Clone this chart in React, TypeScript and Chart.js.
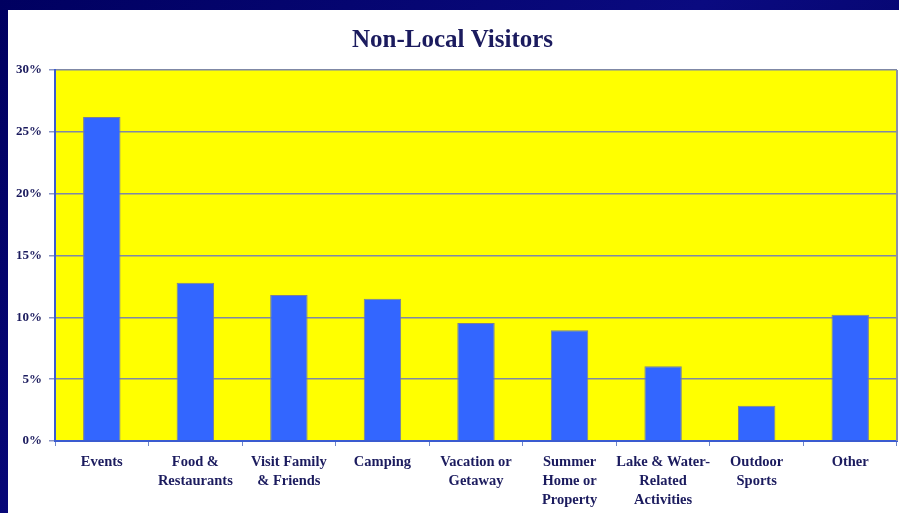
import React, { useEffect, useRef } from "react";
import { Chart, registerables } from "chart.js";

Chart.register(...registerables);

const categories: string[][] = [
  ["Events"],
  ["Food &", "Restaurants"],
  ["Visit Family", "& Friends"],
  ["Camping"],
  ["Vacation or", "Getaway"],
  ["Summer", "Home or", "Property"],
  ["Lake & Water-", "Related", "Activities"],
  ["Outdoor", "Sports"],
  ["Other"],
];
const values: number[] = [26.2, 12.8, 11.8, 11.5, 9.55, 8.95, 6.05, 2.85, 10.2];
const yTicks: number[] = [0, 5, 10, 15, 20, 25, 30];

const TEXT = "#1b1b5e";
const FONT = "'Liberation Serif', 'Times New Roman', serif";

const plotBg = {
  id: "plotBg",
  beforeDraw(chart: any) {
    const { ctx, chartArea } = chart;
    if (!chartArea) return;
    ctx.save();
    ctx.fillStyle = "#ffff00";
    ctx.fillRect(chartArea.left, chartArea.top, chartArea.right - chartArea.left, chartArea.bottom - chartArea.top);
    ctx.restore();
  },
  afterDraw(chart: any) {
    const { ctx, chartArea } = chart;
    ctx.save();
    ctx.strokeStyle = "#8a8fa8";
    ctx.lineWidth = 2;
    ctx.beginPath();
    ctx.moveTo(chartArea.right, chartArea.top);
    ctx.lineTo(chartArea.right, chartArea.bottom);
    ctx.stroke();
    ctx.restore();
  },
};

export default function App() {
  const ref = useRef<HTMLCanvasElement>(null);
  useEffect(() => {
    document.body.style.margin = "0";
    const chart = new Chart(ref.current!, {
      type: "bar",
      data: {
        labels: categories,
        datasets: [
          {
            data: values,
            backgroundColor: "#3366ff",
            borderColor: "#7a7f96",
            borderWidth: 1,
            barPercentage: 0.4,
            categoryPercentage: 1,
          },
        ],
      },
      options: {
        animation: false,
        responsive: false,
        layout: { padding: { left: 0, right: 2, top: 0, bottom: 0 } },
        plugins: {
          legend: { display: false },
          tooltip: { enabled: false },
          title: {
            display: true,
            text: "Non-Local Visitors",
            color: TEXT,
            font: { family: FONT, size: 25, weight: "bold", lineHeight: 1.2 },
            padding: { top: 16, bottom: 14 },
          },
        },
        scales: {
          x: {
            grid: {
              offset: true,
              drawOnChartArea: false,
              drawTicks: true,
              tickLength: 5,
              color: "#6f86c8",
              lineWidth: 1,
            },
            border: { display: true, color: "#3a5bd0", width: 2 },
            ticks: {
              color: TEXT,
              font: { family: FONT, size: 14.5, weight: "bold", lineHeight: 1.3 },
              padding: 7,
              maxRotation: 0,
              autoSkip: false,
            },
            afterFit(scale: any) {
              scale.height = 72;
            },
          },
          y: {
            min: 0,
            max: 30,
            afterBuildTicks(scale: any) {
              scale.ticks = yTicks.map((v) => ({ value: v }));
            },
            grid: {
              color: "#7f88a6",
              lineWidth: 1.5,
              drawTicks: true,
              tickLength: 6,
              tickColor: "#8a96c8",
            },
            border: { display: true, color: "#3a5bd0", width: 2 },
            ticks: {
              color: TEXT,
              font: { family: FONT, size: 13, weight: "bold" },
              padding: 7,
              callback: (v: any) => v + "%",
            },
            afterFit(scale: any) {
              scale.width = 47;
            },
          },
        },
      },
      plugins: [plotBg],
    });
    return () => chart.destroy();
  }, []);

  return (
    <div
      style={{
        position: "fixed",
        left: 0,
        top: 0,
        width: 899,
        height: 513,
        background: "linear-gradient(135deg, #000060 0%, #0a0a80 50%, #000058 100%)",
      }}
    >
      <div style={{ position: "absolute", left: 8, top: 10, width: 891, height: 503, background: "#ffffff" }}>
        <canvas ref={ref} width={891} height={503} style={{ display: "block" }} />
      </div>
    </div>
  );
}
